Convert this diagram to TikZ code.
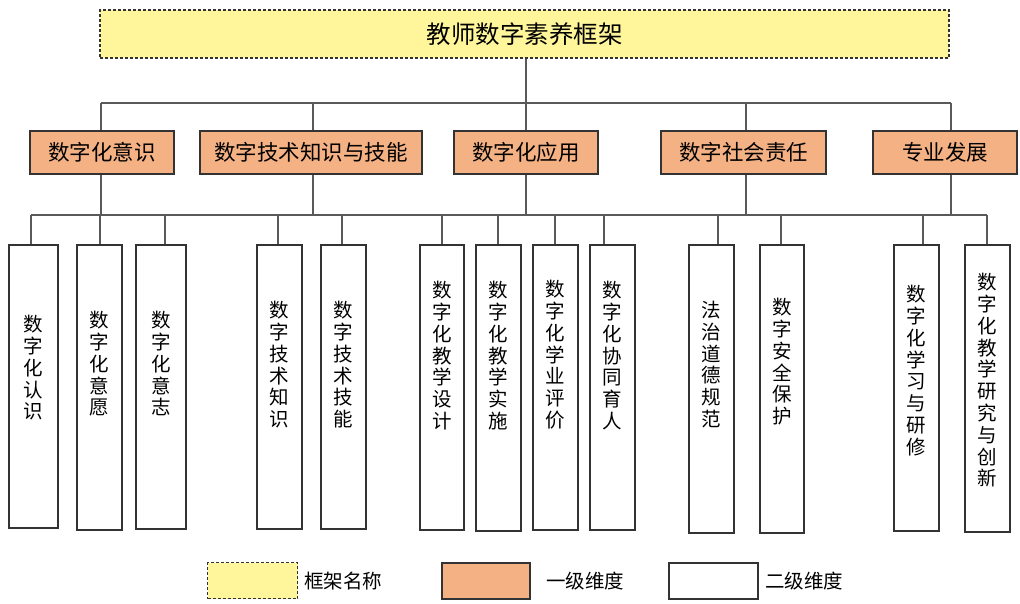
\documentclass[tikz,border=0pt]{standalone}
\usepackage{fontspec}
\setmainfont{Noto Sans CJK SC}
\begin{document}
\begin{tikzpicture}[x=1pt,y=-1pt,
  conn/.style={draw=black!65, line width=1.3pt},
  topbox/.style={draw=black!80, line width=1.1pt, densely dashed, fill=yellow1, inner sep=0pt, minimum height=48pt, minimum width=849pt},
  lvone/.style={draw=black!80, line width=1.6pt, fill=orange1, inner sep=0pt, minimum height=43pt, font=\fontsize{21.5}{23}\selectfont},
  lvtwo/.style={draw=black!80, line width=1.6pt, fill=white, inner sep=0pt},
  vtxt/.style={inner sep=0pt, anchor=north, align=center, font=\fontsize{19.5}{21.8}\selectfont},
  legtxt/.style={inner sep=0pt, anchor=west, font=\fontsize{19.5}{21}\selectfont},
]
\definecolor{yellow1}{HTML}{FFF69C}
\definecolor{orange1}{HTML}{F4B183}
\useasboundingbox[fill=white] (0,0) rectangle (1020,603);

% top
\node[topbox] (top) at (524.5,34) {\fontsize{24.5}{26}\selectfont 教师数字素养框架};

% level one
\node[lvone, minimum width=144pt] (la) at (102,152.5) {数字化意识};
\node[lvone, minimum width=222pt] (lb) at (311,152.5) {数字技术知识与技能};
\node[lvone, minimum width=144pt] (lc) at (526,152.5) {数字化应用};
\node[lvone, minimum width=165pt] (ld) at (743.5,152.5) {数字社会责任};
\node[lvone, minimum width=144pt] (le) at (945,152.5) {专业发展};

% level two boxes (top 244)
\node[lvtwo, minimum width=49pt, minimum height=283pt, anchor=north] (b1) at (33.5,244) {};
\node[lvtwo, minimum width=45pt, minimum height=285pt, anchor=north] (b2) at (99.5,244) {};
\node[lvtwo, minimum width=50pt, minimum height=284pt, anchor=north] (b3) at (161,244) {};
\node[lvtwo, minimum width=45pt, minimum height=284pt, anchor=north] (b4) at (279.5,244) {};
\node[lvtwo, minimum width=45pt, minimum height=284pt, anchor=north] (b5) at (343.5,244) {};
\node[lvtwo, minimum width=44pt, minimum height=285pt, anchor=north] (b6) at (442,244) {};
\node[lvtwo, minimum width=45pt, minimum height=286pt, anchor=north] (b7) at (498.5,244) {};
\node[lvtwo, minimum width=45pt, minimum height=285pt, anchor=north] (b8) at (555.5,244) {};
\node[lvtwo, minimum width=45pt, minimum height=285pt, anchor=north] (b9) at (612.5,244) {};
\node[lvtwo, minimum width=45pt, minimum height=288pt, anchor=north] (b10) at (711.5,244) {};
\node[lvtwo, minimum width=44pt, minimum height=288pt, anchor=north] (b11) at (782,244) {};
\node[lvtwo, minimum width=45pt, minimum height=286pt, anchor=north] (b12) at (916.5,244) {};
\node[lvtwo, minimum width=45pt, minimum height=287pt, anchor=north] (b13) at (987.5,244) {};

% level two texts
\node[vtxt] (t1) at (33.5,315) {数\\字\\化\\认\\识};
\node[vtxt] (t2) at (99.5,311) {数\\字\\化\\意\\愿};
\node[vtxt] (t3) at (161,311) {数\\字\\化\\意\\志};
\node[vtxt] (t4) at (279.5,301) {数\\字\\技\\术\\知\\识};
\node[vtxt] (t5) at (343.5,301) {数\\字\\技\\术\\技\\能};
\node[vtxt] (t6) at (442,281) {数\\字\\化\\教\\学\\设\\计};
\node[vtxt] (t7) at (498.5,281) {数\\字\\化\\教\\学\\实\\施};
\node[vtxt] (t8) at (555.5,280) {数\\字\\化\\学\\业\\评\\价};
\node[vtxt] (t9) at (612.5,281) {数\\字\\化\\协\\同\\育\\人};
\node[vtxt] (t10) at (711.5,301) {法\\治\\道\\德\\规\\范};
\node[vtxt] (t11) at (782,298) {数\\字\\安\\全\\保\\护};
\node[vtxt] (t12) at (916.5,285) {数\\字\\化\\学\\习\\与\\研\\修};
\node[vtxt] (t13) at (987.5,273) {数\\字\\化\\教\\学\\研\\究\\与\\创\\新};

% connectors: top to bus one
\coordinate (p0) at (526,103);
\coordinate (pa) at (101,103);
\coordinate (pb) at (313,103);
\coordinate (pc) at (526,103);
\coordinate (pd) at (746,103);
\coordinate (pe) at (951,103);
\draw[conn] (top.south -| p0) -- (p0);
\draw[conn] (pa) -- (pe);
\foreach \p/\n in {pa/la,pb/lb,pc/lc,pd/ld,pe/le}{
  \draw[conn] (\p) -- (\p |- \n.north);
}

% level one to bus two
\coordinate (qa) at (101,215);
\coordinate (qb) at (313,215);
\coordinate (qc) at (526,215);
\coordinate (qd) at (746,215);
\coordinate (qe) at (951,215);
\foreach \q/\n in {qa/la,qb/lb,qc/lc,qd/ld,qe/le}{
  \draw[conn] (\q |- \n.south) -- (\q);
}
\coordinate (r1) at (31,215);
\coordinate (r2) at (100,215);
\coordinate (r3) at (165,215);
\coordinate (r4) at (278,215);
\coordinate (r5) at (342,215);
\coordinate (r6) at (442,215);
\coordinate (r7) at (498,215);
\coordinate (r8) at (555,215);
\coordinate (r9) at (604,215);
\coordinate (r10) at (718,215);
\coordinate (r11) at (781,215);
\coordinate (r12) at (923,215);
\coordinate (r13) at (987,215);
\draw[conn] (r1) -- (r13);
\foreach \i in {1,...,13}{
  \draw[conn] (r\i) -- (r\i |- b\i.north);
}

% legend
\node[topbox, minimum width=90pt, minimum height=36pt, anchor=north west] (k1) at (207,562) {};
\node[legtxt] (k1t) at (304,581) {框架名称};
\node[lvone, minimum width=88pt, minimum height=36pt, anchor=north west] (k2) at (441,562) {};
\node[legtxt] (k2t) at (546,581) {一级维度};
\node[lvtwo, minimum width=89pt, minimum height=36pt, anchor=north west] (k3) at (668,562) {};
\node[legtxt] (k3t) at (765,581) {二级维度};
\end{tikzpicture}
\end{document}
